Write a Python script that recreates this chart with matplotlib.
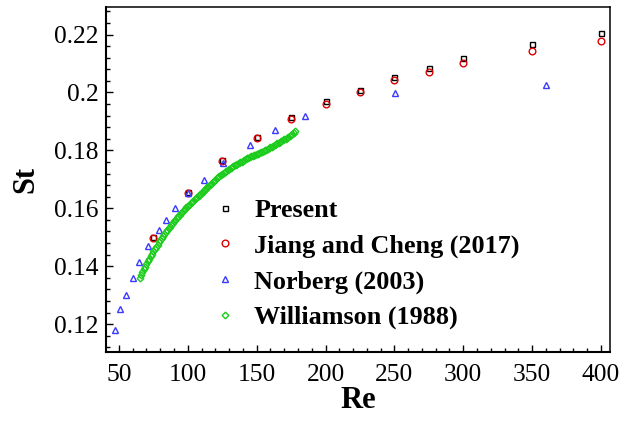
import matplotlib
matplotlib.use("Agg")
import matplotlib.pyplot as plt
from matplotlib.ticker import MultipleLocator

# ── data ─────────────────────────────────────────────────────
re_present = [75, 100, 125, 150, 175, 200, 225, 250, 275, 300, 350, 400]
st_present = [0.1500, 0.1656, 0.1766, 0.1847, 0.1915, 0.1969,
              0.2008, 0.2054, 0.2085, 0.2119, 0.2169, 0.2206]

re_jiang = [75, 100, 125, 150, 175, 200, 225, 250, 275, 300, 350, 400]
st_jiang = [0.1499, 0.1654, 0.1762, 0.1844, 0.1907, 0.1959,
            0.2002, 0.2042, 0.2072, 0.2100, 0.2144, 0.2179]

re_norberg = [47, 50.7, 54.9, 60, 64.5, 70.9, 78.9, 84, 90.7, 100,
              111.5, 125.3, 144.8, 163.5, 185, 250.7, 360]
st_norberg = [0.1179, 0.1252, 0.1302, 0.1361, 0.1414, 0.1469, 0.1524,
              0.1561, 0.1602, 0.1654, 0.1699, 0.1757, 0.1820, 0.1869,
              0.1919, 0.1999, 0.2027]

re_williamson = [65, 66, 67, 68, 69, 70, 71, 72, 73, 74, 75, 76, 77, 78, 79,
                 80, 81, 82, 83, 84, 85, 86, 87, 88, 89, 90, 91, 92, 93, 94,
                 95, 96, 97, 98, 99, 100, 101, 102, 103, 104, 105, 106, 107,
                 108, 109, 110, 111, 112, 113, 114, 115, 116, 117, 118, 119,
                 120, 121, 122, 123, 124, 125, 126, 127, 128, 129, 130, 131,
                 132, 133, 134, 135, 136, 137, 138, 139, 140, 141, 142, 143,
                 144, 145, 146, 147, 148, 149, 150, 151, 152, 153, 154, 155,
                 156, 157, 158, 159, 160, 161, 162, 163, 164, 165, 166, 167,
                 168, 169, 170, 171, 172, 173, 174, 175, 176, 177, 178]
st_williamson = [0.1360, 0.1370, 0.1380, 0.1390, 0.1399, 0.1408, 0.1417,
                 0.1426, 0.1435, 0.1443, 0.1452, 0.1460, 0.1468, 0.1475,
                 0.1483, 0.1490, 0.1497, 0.1504, 0.1511, 0.1518, 0.1525,
                 0.1531, 0.1537, 0.1543, 0.1549, 0.1555, 0.1561, 0.1566,
                 0.1572, 0.1577, 0.1583, 0.1588, 0.1593, 0.1598, 0.1603,
                 0.1608, 0.1613, 0.1617, 0.1622, 0.1626, 0.1631, 0.1635,
                 0.1640, 0.1644, 0.1649, 0.1653, 0.1658, 0.1662, 0.1667,
                 0.1672, 0.1676, 0.1681, 0.1685, 0.1690, 0.1694, 0.1699,
                 0.1703, 0.1707, 0.1711, 0.1715, 0.1719, 0.1722, 0.1726,
                 0.1729, 0.1733, 0.1736, 0.1739, 0.1742, 0.1745, 0.1748,
                 0.1751, 0.1753, 0.1756, 0.1759, 0.1761, 0.1764, 0.1767,
                 0.1769, 0.1772, 0.1774, 0.1777, 0.1779, 0.1781, 0.1783,
                 0.1785, 0.1787, 0.1789, 0.1791, 0.1793, 0.1795, 0.1797,
                 0.1800, 0.1802, 0.1805, 0.1807, 0.1810, 0.1813, 0.1816,
                 0.1819, 0.1822, 0.1824, 0.1827, 0.1830, 0.1833, 0.1835,
                 0.1838, 0.1841, 0.1844, 0.1847, 0.1850, 0.1853, 0.1857,
                 0.1861, 0.1866]

x_ticks = [50, 100, 150, 200, 250, 300, 350, 400]
y_ticks = [0.12, 0.14, 0.16, 0.18, 0.2, 0.22]
y_tick_labels = ["0.12", "0.14", "0.16", "0.18", "0.2", "0.22"]

plt.rcParams["font.family"] = ["Liberation Serif", "DejaVu Serif"]

fig = plt.figure(figsize=(6.22, 4.22), dpi=100)
ax = fig.add_axes([0.1704, 0.1666, 0.8098, 0.8161])

common = dict(linestyle="none", markerfacecolor="none", markeredgewidth=1.0)
ax.plot(re_present, st_present, marker="s", ms=3.6, markeredgecolor="black",
        label="Present", **common)
ax.plot(re_jiang, st_jiang, marker="o", ms=4.8, markeredgecolor="#dd0000",
        label="Jiang and Cheng (2017)", **common)
ax.plot(re_norberg, st_norberg, marker="^", ms=4.8, markeredgecolor="#3a3aff",
        label="Norberg (2003)", **common)
ax.plot(re_williamson, st_williamson, marker="D", ms=3.4, markeredgecolor="#1ccc1c",
        label="Williamson (1988)", **common)

ax.set_xlim(40.6, 406.3)
ax.set_ylim(0.1105, 0.2294)
ax.set_xticks(x_ticks)
ax.set_yticks(y_ticks)
ax.set_yticklabels(y_tick_labels)
ax.xaxis.set_minor_locator(MultipleLocator(10))
ax.yaxis.set_minor_locator(MultipleLocator(0.004))

ax.tick_params(which="both", direction="in", top=False, right=False,
               labelsize=18.4, width=1.0)
ax.tick_params(which="major", length=5.3)
ax.tick_params(which="minor", length=2.9)
ax.tick_params(axis="x", pad=9)
ax.tick_params(axis="y", pad=5.5)
for side in ["left", "bottom"]:
    ax.spines[side].set_linewidth(1.5)
for side in ["top", "right"]:
    ax.spines[side].set_linewidth(1.1)

ax.set_xlabel("Re", fontsize=22, fontweight="bold", labelpad=0)
ax.set_ylabel("St", fontsize=22, fontweight="bold", labelpad=10)

leg = ax.legend(loc="upper left", bbox_to_anchor=(212 / 622, 1 - 199 / 422),
                bbox_transform=fig.transFigure, frameon=False, numpoints=1,
                handlelength=1.0, handletextpad=0.62, labelspacing=0.46,
                borderpad=0, borderaxespad=0,
                prop={"family": "Liberation Serif", "weight": "bold", "size": 18.8})

fig.savefig("out.png", dpi=100)
